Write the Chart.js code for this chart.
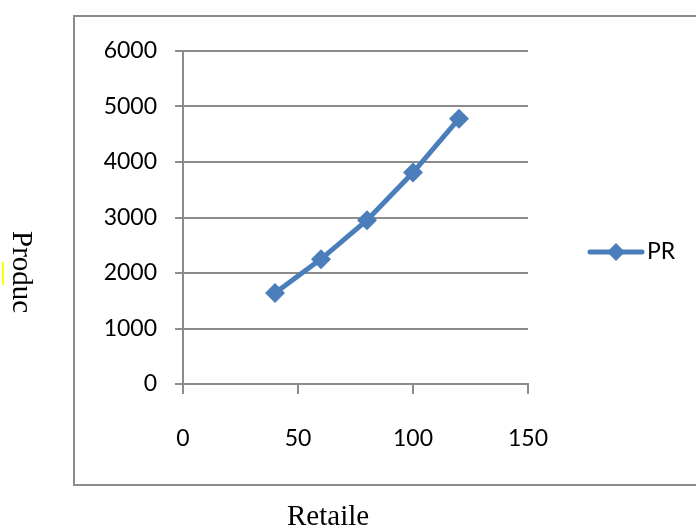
<!DOCTYPE html>
<html>
<head>
<meta charset="utf-8">
<script src="https://cdn.jsdelivr.net/npm/chart.js@4.4.1/dist/chart.umd.min.js"></script>
<style>
  html, body { margin: 0; padding: 0; background: #fff; }
  #wrap { position: relative; width: 696px; height: 529px; overflow: hidden; }
  #box { position: absolute; left: 73px; top: 15px; width: 640px; height: 467px; border: 2px solid #8c8c8c; border-right: none; }
  #chart { position: absolute; left: 0; top: 0; }
  #ylab { position: absolute; left: 6px; top: 231px; font-family: "Liberation Serif", serif; font-size: 29px; writing-mode: vertical-rl; color: #000; }
  #mark { position: absolute; left: 2px; top: 262px; width: 2px; height: 23px; background: #ffff00; }
  #xlab { position: absolute; left: 287px; top: 499px; font-family: "Liberation Serif", serif; font-size: 29px; color: #000; }
</style>
</head>
<body>
<div id="wrap">
  <div id="box"></div>
  <canvas id="chart" width="696" height="529"></canvas>
  <div id="ylab">Produc</div>
  <div id="mark"></div>
  <div id="xlab">Retaile</div>
</div>
<script>
// valores
const retaile = [40, 60, 80, 100, 120];
const produc = [1640, 2250, 2950, 3810, 4780];
const seriesName = "PR";
const xTicks = [0, 50, 100, 150];
const yTicks = [0, 1000, 2000, 3000, 4000, 5000, 6000];

const blue = "#4a7ebb";
const gray = "#8c8c8c";
const fontFamily = "Lato, 'Open Sans', sans-serif";
const tickFont = { family: fontFamily, size: 23 };

// legenda desenhada à direita, fora da área do gráfico
const legendaPR = {
    id: "legendaPR",
    afterDraw(chart) {
        const ctx = chart.ctx;
        const ds = chart.data.datasets[0];
        const y = 252;
        ctx.save();
        ctx.strokeStyle = ds.borderColor;
        ctx.lineWidth = 5;
        ctx.lineCap = "round";
        ctx.beginPath();
        ctx.moveTo(590, y);
        ctx.lineTo(642, y);
        ctx.stroke();
        ctx.fillStyle = ds.borderColor;
        ctx.beginPath();
        ctx.moveTo(616, y - 9); ctx.lineTo(625, y); ctx.lineTo(616, y + 9); ctx.lineTo(607, y);
        ctx.closePath();
        ctx.fill();
        ctx.fillStyle = "#000";
        ctx.font = "23px " + fontFamily;
        ctx.textBaseline = "middle";
        ctx.fillText(ds.label, 647, y);
        ctx.restore();
    }
};

new Chart(document.getElementById("chart"), {
    type: "line",
    data: {
        datasets: [{
            label: seriesName,
            data: retaile.map((x, i) => ({ x: x, y: produc[i] })),
            borderColor: blue,
            backgroundColor: blue,
            borderWidth: 5,
            pointStyle: "rectRot",
            pointRadius: 10,
            pointBorderWidth: 0,
            tension: 0
        }]
    },
    options: {
        responsive: false,
        animation: false,
        layout: { padding: { left: 0, right: 168, top: 51, bottom: 55 } },
        plugins: { legend: { display: false }, tooltip: { enabled: false } },
        scales: {
            x: {
                type: "linear",
                min: 0, max: 150,
                afterBuildTicks: s => { s.ticks = xTicks.map(v => ({ value: v })); },
                afterFit: s => { s.height = 90; },
                grid: { drawOnChartArea: false, color: gray, lineWidth: 2, tickLength: 10 },
                border: { color: gray, width: 2 },
                ticks: { color: "#000", font: tickFont, padding: 31, maxRotation: 0, callback: v => String(v) }
            },
            y: {
                min: 0, max: 6000,
                afterBuildTicks: s => { s.ticks = yTicks.map(v => ({ value: v })); },
                afterFit: s => { s.width = 183; },
                grid: { color: gray, lineWidth: 2, tickLength: 8 },
                border: { color: gray, width: 2 },
                ticks: { color: "#000", font: tickFont, padding: 18, callback: v => String(v) }
            }
        }
    },
    plugins: [legendaPR]
});
</script>
</body>
</html>
